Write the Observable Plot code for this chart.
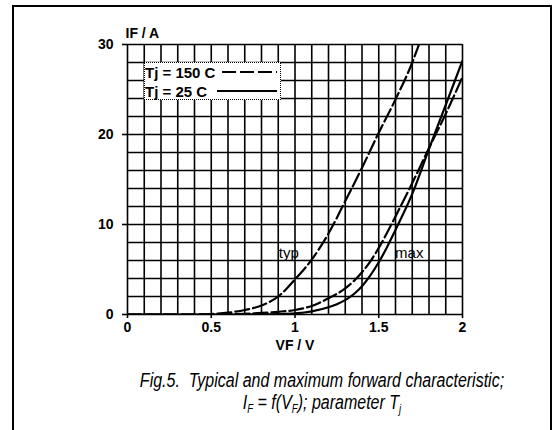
<!DOCTYPE html>
<html><head><meta charset="utf-8">
<script src="https://cdn.jsdelivr.net/npm/d3@7"></script>
<script src="https://cdn.jsdelivr.net/npm/@observablehq/plot@0.6"></script>
<style>
html,body{margin:0;padding:0;background:#fff;}
#wrap{position:relative;width:557px;height:430px;overflow:hidden;font-family:"Liberation Sans",Arial,sans-serif;color:#000;}
#frame{position:absolute;left:12px;top:5px;width:540px;height:460px;border:2px solid #000;box-sizing:border-box;}
#chart{position:absolute;left:0;top:0;}
#legend{position:absolute;left:144px;top:62px;width:137px;height:38px;border:1.5px dotted #000;background:#fff;box-sizing:border-box;font-weight:bold;font-size:15px;}
#legend .row{position:absolute;left:0px;height:17px;line-height:17px;white-space:nowrap;}
#legend svg{position:absolute;left:0;top:0;}
#caption{position:absolute;left:20px;width:604px;top:369px;text-align:center;font-style:italic;font-size:20px;line-height:22px;}
#caption div{transform:scale(0.8,1.05);transform-origin:center;white-space:nowrap;}
#caption sub{font-size:0.6em;line-height:0;vertical-align:-0.25em;}
</style>
</head><body>
<div id="wrap">
  <div id="frame"></div>
  <div id="chart"></div>
  <div id="legend"></div>
  <div id="caption">
    <div>Fig.5.&nbsp; Typical and maximum forward characteristic;</div>
    <div>I<sub>F</sub> = f(V<sub>F</sub>); parameter T<sub>j</sub></div>
  </div>
</div>
<script>
// Tick labels
const xTicks = [0, 0.5, 1, 1.5, 2];
const yTicks = [0, 10, 20, 30];
const xLabel = "VF / V";
const yLabel = "IF / A";

// typ, Tj = 150 C (dashed)
const typ150V = [0, 0.4, 0.5, 0.6, 0.7, 0.8, 0.9, 1.0, 1.1, 1.2, 1.3, 1.4, 1.5, 1.6, 1.7, 1.74];
const typ150I = [0, 0, 0.05, 0.2, 0.5, 1.0, 2.0, 3.9, 6.1, 9.0, 12.6, 16.3, 20.2, 23.9, 28.0, 30];

// max, Tj = 150 C (dashed)
const max150V = [0, 0.5, 0.6, 0.7, 0.8, 0.9, 1.0, 1.1, 1.2, 1.3, 1.35, 1.4, 1.45, 1.5, 1.6, 1.7, 1.8, 1.9, 2.0];
const max150I = [0, 0, 0.03, 0.08, 0.17, 0.3, 0.5, 0.95, 1.8, 2.9, 3.7, 4.7, 5.9, 7.4, 10.9, 14.6, 18.5, 22.3, 26.4];

// max, Tj = 25 C (solid)
const max25V = [0, 0.7, 0.8, 0.9, 1.0, 1.1, 1.2, 1.25, 1.3, 1.35, 1.4, 1.45, 1.5, 1.55, 1.6, 1.7, 1.8, 1.9, 2.0];
const max25I = [0, 0, 0.01, 0.04, 0.12, 0.35, 0.8, 1.15, 1.6, 2.25, 3.15, 4.35, 5.8, 7.5, 9.4, 13.4, 18.4, 23.3, 28.2];

// curve annotations
const noteText = ["typ", "max"];
const noteV = [0.963, 1.682];
const noteI = [6.8, 6.8];

// legend entries
const legendLabels = ["Tj = 150 C", "Tj = 25 C"];
const legendDash = ["14,4", null];

const toRows = (V, I) => V.map((v, i) => ({v, i: I[i]}));
const typ150 = toRows(typ150V, typ150I);
const max150 = toRows(max150V, max150I);
const max25 = toRows(max25V, max25I);
const notes = noteText.map((t, k) => ({t, v: noteV[k], i: noteI[k]}));

const xGrid = d3.range(0, 21).map(k => k / 10);
const yGrid = d3.range(0, 16).map(k => k * 2);

const gridStyle = {stroke: "#000", strokeOpacity: 1, strokeWidth: 1.6};
const chart = Plot.plot({
  width: 557, height: 360,
  marginLeft: 127, marginRight: 95, marginTop: 44, marginBottom: 46,
  x: {domain: [0, 2], label: null},
  y: {domain: [0, 30], label: null},
  style: {fontFamily: "'Liberation Sans', Arial, sans-serif", fontSize: "14px", background: "transparent", color: "#000", overflow: "visible"},
  marks: [
    Plot.gridX({ticks: xGrid, ...gridStyle}),
    Plot.gridY({ticks: yGrid, ...gridStyle}),
    Plot.axisX({ticks: xTicks, tickSize: 4, tickPadding: 4, fontSize: 14, fontWeight: "bold", tickFormat: d => String(d), strokeWidth: 1.6}),
    Plot.axisY({ticks: yTicks, tickSize: 5, tickPadding: 9, fontSize: 14, fontWeight: "bold", tickFormat: d => String(d), strokeWidth: 1.6}),
    Plot.line(typ150, {x: "v", y: "i", stroke: "#000", strokeWidth: 2.2, strokeDasharray: "14,4", curve: "monotone-x", clip: true}),
    Plot.line(max150, {x: "v", y: "i", stroke: "#000", strokeWidth: 2.2, strokeDasharray: "14,4", curve: "monotone-x", clip: true}),
    Plot.line(max25, {x: "v", y: "i", stroke: "#000", strokeWidth: 2.2, curve: "monotone-x", clip: true}),
    Plot.text(notes, {x: "v", y: "i", text: "t", fontSize: 15, fill: "#000"}),
    Plot.text([yLabel], {frameAnchor: "top-left", dx: -2, dy: -16, textAnchor: "start", fontSize: 14, fontWeight: "bold"}),
    Plot.text([xLabel], {frameAnchor: "bottom", dy: 35, fontSize: 14, fontWeight: "bold"})
  ]
});
document.getElementById("chart").appendChild(chart);

// legend box
const lg = document.getElementById("legend");
const ns = "http://www.w3.org/2000/svg";
const lsvg = document.createElementNS(ns, "svg");
lsvg.setAttribute("width", 137); lsvg.setAttribute("height", 38);
lg.appendChild(lsvg);
legendLabels.forEach((lab, k) => {
  const row = document.createElement("div");
  row.className = "row";
  row.style.top = (1 + k * 19) + "px";
  row.textContent = lab;
  lg.appendChild(row);
  const ln = document.createElementNS(ns, "line");
  ln.setAttribute("x1", k === 0 ? 77 : 72);
  ln.setAttribute("x2", 132);
  ln.setAttribute("y1", 9 + k * 19);
  ln.setAttribute("y2", 9 + k * 19);
  ln.setAttribute("stroke", "#000");
  ln.setAttribute("stroke-width", 2.2);
  if (legendDash[k]) ln.setAttribute("stroke-dasharray", legendDash[k]);
  lsvg.appendChild(ln);
});
</script>
</body></html>
